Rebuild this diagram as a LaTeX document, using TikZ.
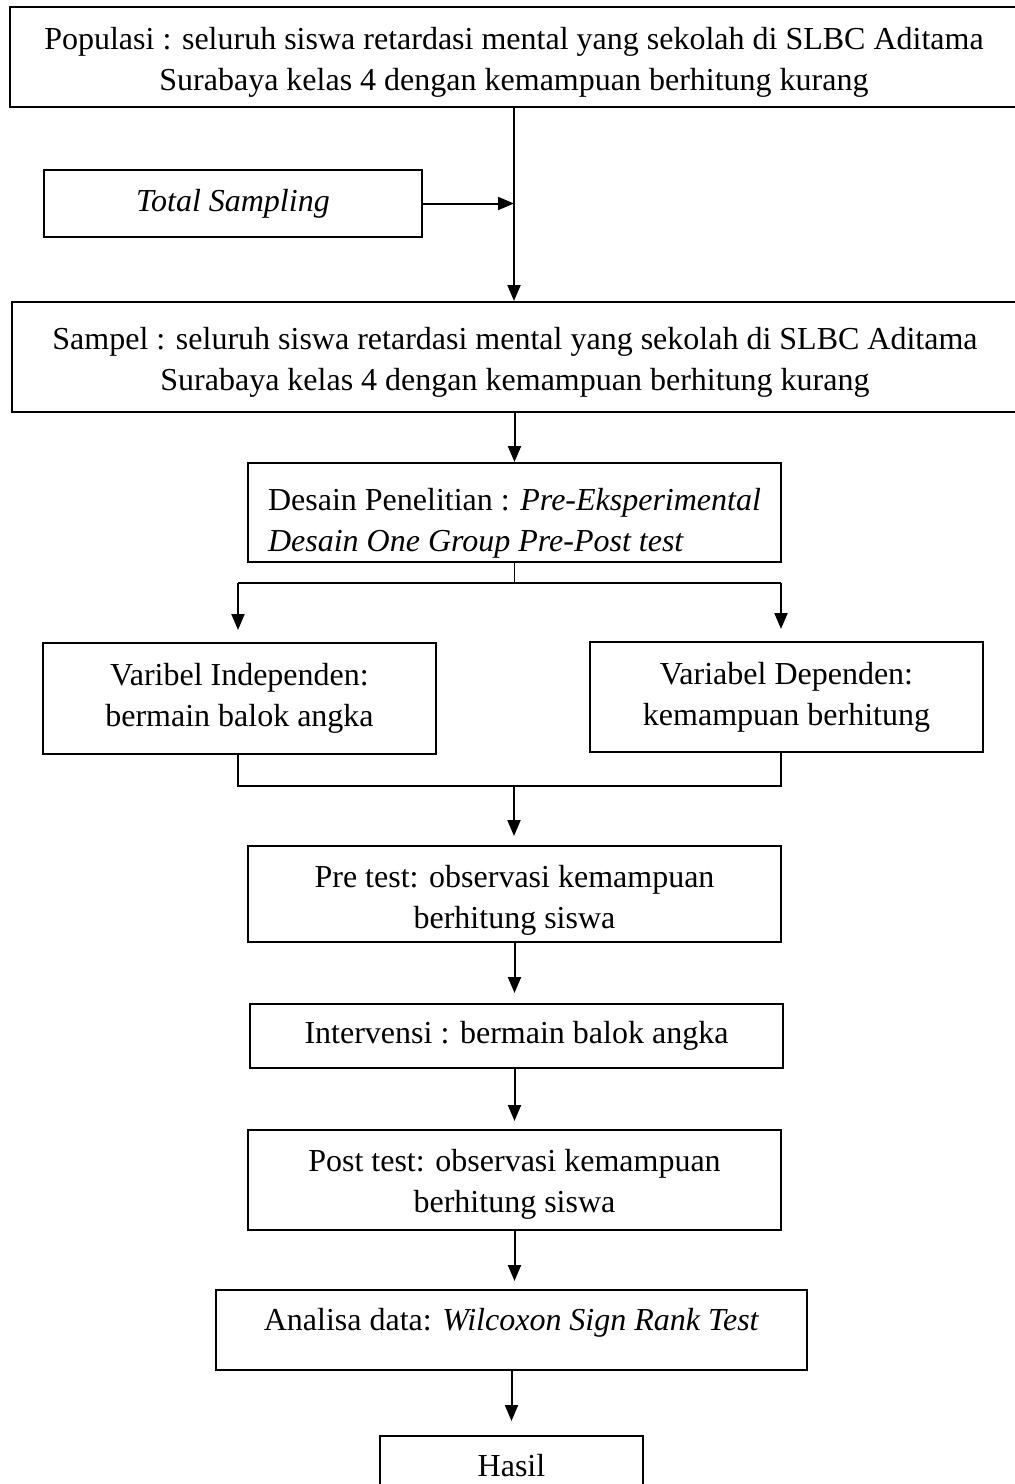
\documentclass[tikz,border=0pt]{standalone}
\usepackage{fontspec}
\setmainfont{Liberation Serif}
\usetikzlibrary{arrows.meta}
\newcommand\topgap[1]{\rule{0pt}{#1}}
\begin{document}
\begin{tikzpicture}[x=0.5pt,y=-0.5pt,
  box/.style={draw=black, line width=1pt, align=center, inner sep=0pt,
    font=\fontsize{16pt}{20.5pt}\selectfont},
  conn/.style={draw=black, line width=1pt},
  thinconn/.style={draw=black, line width=0.6pt},
  arr/.style={conn, -{Triangle[length=8pt,width=6.5pt]}}]
\fill[white] (0,0) rectangle (1014,1484);
\useasboundingbox (0,0) rectangle (1014,1484);

\node[box, minimum width=504pt, minimum height=50pt] (pop) at (514,57)
  {\topgap{16pt}Populasi : seluruh siswa retardasi mental yang sekolah di SLBC Aditama\\
   Surabaya kelas 4 dengan kemampuan berhitung kurang};
\node[box, minimum width=189pt, minimum height=33.5pt] (ts) at (233,203.5)
  {\itshape Total Sampling};
\node[box, minimum width=503pt, minimum height=55pt] (samp) at (515,357)
  {\topgap{16pt}Sampel : seluruh siswa retardasi mental yang sekolah di SLBC Aditama\\
   Surabaya kelas 4 dengan kemampuan berhitung kurang};
\node[box, align=left, minimum width=266.5pt, minimum height=49.5pt] (des) at (514.5,512.5)
  {\topgap{22pt}Desain Penelitian : \textit{Pre-Eksperimental}\\
   \textit{Desain One Group Pre-Post test}};
\node[box, minimum width=196.5pt, minimum height=55.5pt] (indep) at (239.5,698.5)
  {Varibel Independen:\\ bermain balok angka};
\node[box, minimum width=196.5pt, minimum height=55pt] (dep) at (786.5,697)
  {Variabel Dependen:\\ kemampuan berhitung};
\node[box, minimum width=266.5pt, minimum height=48pt] (pre) at (514.5,894)
  {\topgap{17pt}Pre test: observasi kemampuan\\ berhitung siswa};
\node[box, minimum width=266.5pt, minimum height=32pt] (int) at (516.5,1036)
  {Intervensi : bermain balok angka};
\node[box, minimum width=266.5pt, minimum height=50pt] (post) at (514.5,1180)
  {\topgap{15pt}Post test: observasi kemampuan\\ berhitung siswa};
\node[box, minimum width=295.5pt, minimum height=40pt, text depth=11pt] (ana) at (511.5,1330)
  {Analisa data: \textit{Wilcoxon Sign Rank Test}};
\node[box, minimum width=131.5pt, minimum height=30pt] (has) at (511.5,1466)
  {Hasil};

% connectors
\draw[arr] (pop.south) -- (pop.south |- samp.north);
\coordinate (tsj) at (ts.east -| pop.south);
\draw[arr] (ts.east) -- (tsj);
\draw[arr] (samp.south -| des.north) -- (des.north);
\coordinate (br) at (514,583);
\draw[thinconn] (des.south) -- (des.south |- br);
\coordinate (bl) at (238,583);
\coordinate (brr) at (781,583);
\draw[conn] (bl) -- (brr);
\draw[arr, shorten >=6pt] (bl) -- (bl |- indep.north);
\draw[arr, shorten >=6pt] (brr) -- (brr |- dep.north);
\coordinate (ml) at (238,786);
\coordinate (mr) at (781,786);
\coordinate (mm) at (514,786);
\draw[conn] (ml |- indep.south) -- (ml) -- (mr) -- (mr |- dep.south);
\draw[arr, shorten >=4.5pt] (mm) -- (mm |- pre.north);
\draw[arr, shorten >=5pt] (pre.south) -- (pre.south |- int.north);
\draw[arr, shorten >=4pt] (int.south -| post.north) -- (post.north);
\draw[arr, shorten >=4pt] (post.south) -- (post.south |- ana.north);
\draw[arr, shorten >=7pt] (ana.south) -- (ana.south |- has.north);
\end{tikzpicture}
\end{document}
